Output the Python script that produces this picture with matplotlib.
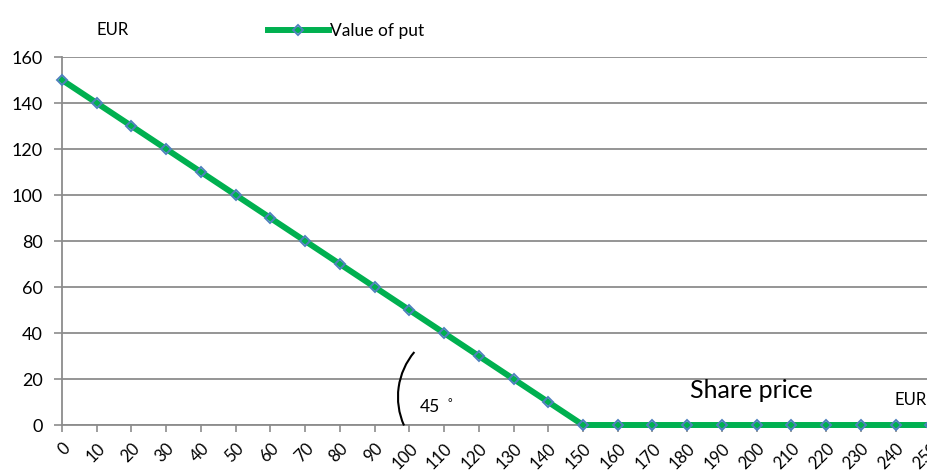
import matplotlib
matplotlib.use("Agg")
import matplotlib.pyplot as plt
from matplotlib.patches import Arc
from matplotlib.transforms import IdentityTransform

plt.rcParams['font.family'] = ['Lato', 'DejaVu Sans']

# Payoff of a put with strike 150 EUR
share_price = [0, 10, 20, 30, 40, 50, 60, 70, 80, 90, 100, 110, 120, 130,
               140, 150, 160, 170, 180, 190, 200, 210, 220, 230, 240, 250]
put_value = [150, 140, 130, 120, 110, 100, 90, 80, 70, 60, 50, 40, 30, 20,
             10, 0, 0, 0, 0, 0, 0, 0, 0, 0, 0, 0]
y_ticks = [0, 20, 40, 60, 80, 100, 120, 140, 160]
strike = 150

W, H = 928, 474
fig = plt.figure(figsize=(W / 100, H / 100), dpi=100)
ax = fig.add_axes([62 / W, 49 / H, 868.3 / W, 368 / H])

grid_col = "#8c8c8c"
ax.plot(share_price, put_value, color="#00b050", linewidth=4.3,
        marker="D", markersize=5, markerfacecolor="none",
        markeredgecolor="#4f81bd", markeredgewidth=1.4,
        label="Value of put", clip_on=False, zorder=5)

ax.set_xlim(0, 250)
ax.set_ylim(0, 160)
ax.set_xticks(share_price)
ax.set_xticklabels([str(v) for v in share_price], rotation=45, ha="right",
                   rotation_mode="anchor", fontsize=12)
ax.set_yticks(y_ticks)
ax.set_yticklabels([str(v) for v in y_ticks], fontsize=13)
ax.tick_params(axis="x", length=5, width=1.2, color=grid_col, pad=6)
ax.tick_params(axis="y", length=6, width=1.2, color=grid_col, pad=8)
ax.grid(axis="y", color=grid_col, linewidth=1.3)
ax.set_axisbelow(True)
for s in ["top", "right"]:
    ax.spines[s].set_visible(False)
for s in ["left", "bottom"]:
    ax.spines[s].set_color(grid_col)
    ax.spines[s].set_linewidth(1.3)

# angle marker "(" left of the kink, drawn in pixel space
kx, ky = ax.transData.transform((strike, 0))
fig.add_artist(Arc((kx - 115, ky + 28), 140, 140, theta1=140, theta2=204,
                   color="black", linewidth=1.5,
                   transform=IdentityTransform()))
ax.text(103, 7.8, "45", fontsize=12.5, va="center")
ax.text(111, 9.5, "°", fontsize=8, va="center")

fig.text(97 / W, 1 - 30 / H, "EUR", fontsize=12, va="center")
fig.text(690 / W, 1 - 390 / H, "Share price", fontsize=18, va="center")
fig.text(895 / W, 1 - 400 / H, "EUR", fontsize=12, va="center")

ax.legend(loc="center left", bbox_to_anchor=(268 / W, 1 - 31 / H),
          bbox_transform=fig.transFigure, frameon=False, fontsize=12.5,
          handlelength=3.5, handletextpad=0.1, borderpad=0, borderaxespad=0)

fig.savefig("out.png", dpi=100)
